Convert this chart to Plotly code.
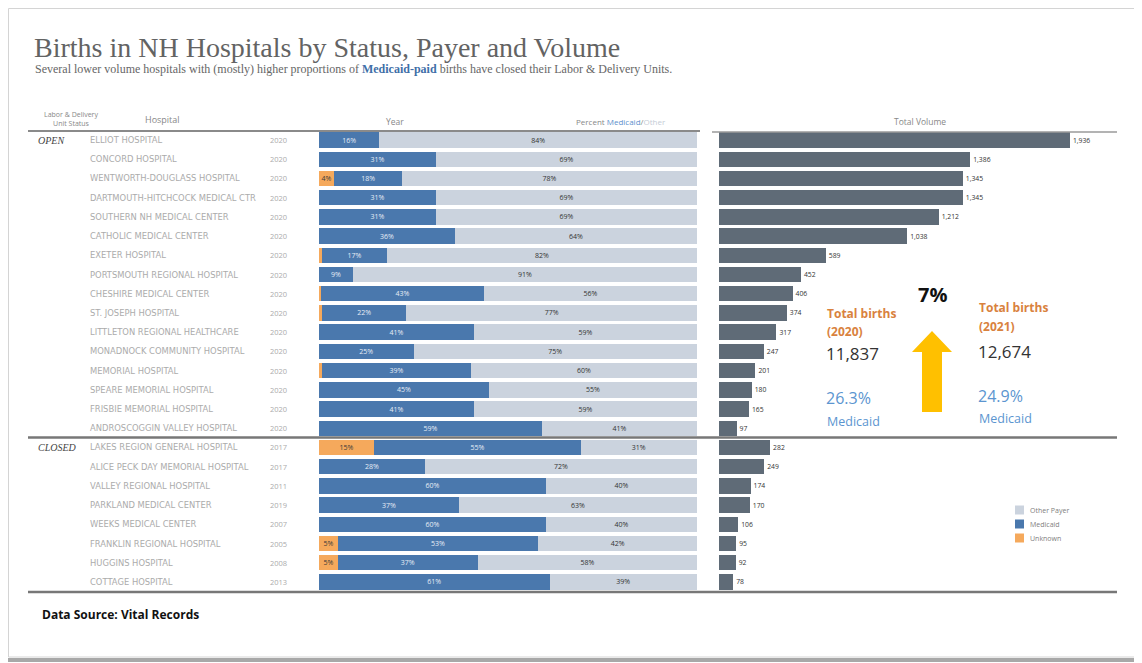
import plotly.graph_objects as go

W, H = 1134, 655   # page body adds an 8px margin on the top/left
OFF = 8

hospitals = [
    "ELLIOT HOSPITAL", "CONCORD HOSPITAL", "WENTWORTH-DOUGLASS HOSPITAL",
    "DARTMOUTH-HITCHCOCK MEDICAL CTR", "SOUTHERN NH MEDICAL CENTER",
    "CATHOLIC MEDICAL CENTER", "EXETER HOSPITAL", "PORTSMOUTH REGIONAL HOSPITAL",
    "CHESHIRE MEDICAL CENTER", "ST. JOSEPH HOSPITAL", "LITTLETON REGIONAL HEALTHCARE",
    "MONADNOCK COMMUNITY HOSPITAL", "MEMORIAL HOSPITAL", "SPEARE MEMORIAL HOSPITAL",
    "FRISBIE MEMORIAL HOSPITAL", "ANDROSCOGGIN VALLEY HOSPITAL",
    "LAKES REGION GENERAL HOSPITAL", "ALICE PECK DAY MEMORIAL HOSPITAL",
    "VALLEY REGIONAL HOSPITAL", "PARKLAND MEDICAL CENTER", "WEEKS MEDICAL CENTER",
    "FRANKLIN REGIONAL HOSPITAL", "HUGGINS HOSPITAL", "COTTAGE HOSPITAL",
]
status = ["OPEN"] * 16 + ["CLOSED"] * 8
years = ["2020"] * 16 + ["2017", "2017", "2011", "2019", "2007", "2005", "2008", "2013"]
unknown_pct = [0, 0, 4.0, 0, 0, 0, 0.8, 0, 0.6, 0.8, 0, 0, 0.8, 0, 0, 0,
               14.6, 0, 0, 0, 0, 5.0, 5.0, 0]
medicaid_pct = [16, 31, 18, 31, 31, 36, 17.2, 9, 43, 22.3, 41, 25, 39.4, 45, 41, 59,
                54.6, 28, 60, 37, 60, 53, 37, 61]
other_pct = [84, 69, 78, 69, 69, 64, 82, 91, 56.4, 76.9, 59, 75, 59.8, 55, 59, 41,
             30.8, 72, 40, 63, 40, 42, 58, 39]
volume = [1936, 1386, 1345, 1345, 1212, 1038, 589, 452, 406, 374, 317, 247, 201, 180,
          165, 97, 282, 249, 174, 170, 106, 95, 92, 78]
legend_names = ["Other Payer", "Medicaid", "Unknown"]

C_UNK = "#f5a95c"
C_MED = "#4a78ad"
C_OTH = "#cbd3de"
C_VOL = "#5f6b77"
C_ORANGE = "#d9823e"
C_BLUE = "#5b95d0"
legend_colors = [C_OTH, C_MED, C_UNK]


def px(x):
    return (x - OFF) / W


def py(y):
    return 1 - (y - OFF) / H


def lab(vals, minv=3):
    return [f"{round(v)}%" if v >= minv else "" for v in vals]


fig = go.Figure()
txtfont = dict(family="Open Sans", size=7)
common = dict(orientation="h", textposition="inside", insidetextanchor="middle",
              textangle=0, constraintext="none", xaxis="x", yaxis="y",
              showlegend=False)
fig.add_trace(go.Bar(
    y=hospitals, x=unknown_pct, name="Unknown",
    marker=dict(color=C_UNK, line=dict(width=0)), text=lab(unknown_pct),
    textfont=dict(color="#3a3a3a", **txtfont), **common,
))
fig.add_trace(go.Bar(
    y=hospitals, x=medicaid_pct, name="Medicaid",
    marker=dict(color=C_MED, line=dict(width=0)), text=lab(medicaid_pct),
    textfont=dict(color="#e6edf6", **txtfont), **common,
))
fig.add_trace(go.Bar(
    y=hospitals, x=other_pct, name="Other Payer",
    marker=dict(color=C_OTH, line=dict(width=0)), text=lab(other_pct),
    textfont=dict(color="#333333", **txtfont), **common,
))
fig.add_trace(go.Bar(
    y=hospitals, x=volume, orientation="h", name="Volume", showlegend=False,
    marker=dict(color=C_VOL, line=dict(width=0)),
    text=[f"{v:,}" for v in volume], textposition="outside", cliponaxis=False,
    textfont=dict(color="#333333", family="Open Sans", size=6.8),
    xaxis="x2", yaxis="y",
))

ytop, ybot = 130.4, 591.6
fig.update_layout(
    width=W, height=H, margin=dict(l=0, r=0, t=0, b=0),
    paper_bgcolor="white", plot_bgcolor="rgba(0,0,0,0)",
    barmode="stack", bargap=0.2, showlegend=False,
    font=dict(family="Open Sans", color="#888"),
    xaxis=dict(domain=[px(319), px(697)], range=[0, 100], showgrid=False,
               zeroline=False, showticklabels=False),
    xaxis2=dict(domain=[px(719), px(1125)], range=[0, 2240], showgrid=False,
                zeroline=False, showticklabels=False, anchor="y"),
    yaxis=dict(domain=[py(ybot), py(ytop)], range=[23.5, -0.5], type="category",
               categoryorder="array", categoryarray=hospitals,
               showticklabels=False, showgrid=False, zeroline=False),
)

ann = []
ann.append(dict(x=px(32), y=py(47), xref="paper", yref="paper", xanchor="left",
                yanchor="middle", showarrow=False,
                text="Births in NH Hospitals by Status, Payer and Volume",
                font=dict(family="Liberation Serif", size=28, color="#636363")))
ann.append(dict(x=px(33), y=py(69), xref="paper", yref="paper", xanchor="left",
                yanchor="middle", showarrow=False,
                text=("Several lower volume hospitals with (mostly) higher proportions of "
                      "<b><span style='color:#3f6fa8'>Medicaid-paid</span></b> births have "
                      "closed their Labor &amp; Delivery Units."),
                font=dict(family="Liberation Serif", size=12, color="#666")))
ann.append(dict(x=px(71), y=py(119), xref="paper", yref="paper", xanchor="center",
                yanchor="middle", showarrow=False,
                text="Labor &amp; Delivery<br>Unit Status",
                font=dict(size=7, color="#888")))
ann.append(dict(x=px(143), y=py(119), xref="paper", yref="paper", xanchor="left",
                yanchor="middle", showarrow=False, text="Hospital",
                font=dict(size=9, color="#888")))
ann.append(dict(x=px(395), y=py(121), xref="paper", yref="paper", xanchor="center",
                yanchor="middle", showarrow=False, text="Year",
                font=dict(size=8.5, color="#888")))
ann.append(dict(x=px(668), y=py(121), xref="paper", yref="paper", xanchor="right",
                yanchor="middle", showarrow=False,
                text=("Percent <span style='color:#5b8fcc'>Medicaid</span>/"
                      "<span style='color:#c5ccd6'>Other</span>"),
                font=dict(size=8, color="#888")))
ann.append(dict(x=px(920), y=py(121), xref="paper", yref="paper", xanchor="center",
                yanchor="middle", showarrow=False, text="Total Volume",
                font=dict(size=8.5, color="#888")))

seen = set()
for h, s, yr in zip(hospitals, status, years):
    if s not in seen:
        seen.add(s)
        ann.append(dict(x=px(36), y=h, xref="paper", yref="y", xanchor="left",
                        yanchor="middle", showarrow=False, text=f"<i>{s}</i>",
                        font=dict(family="Liberation Serif", size=10, color="#444")))
    ann.append(dict(x=px(88), y=h, xref="paper", yref="y", xanchor="left",
                    yanchor="middle", showarrow=False, text=h,
                    font=dict(family="DejaVu Sans", size=8.4, color="#ababab")))
    ann.append(dict(x=px(278), y=h, xref="paper", yref="y", xanchor="center",
                    yanchor="middle", showarrow=False, text=yr,
                    font=dict(size=7.5, color="#ababab")))


def tx(x, y, t, size, color, bold=False, anchor="left"):
    ann.append(dict(x=px(x), y=py(y), xref="paper", yref="paper", xanchor=anchor,
                    yanchor="middle", showarrow=False,
                    text=f"<b>{t}</b>" if bold else t,
                    font=dict(family="Open Sans", size=size, color=color)))


tx(825, 313, "Total births", 12, C_ORANGE, True)
tx(825, 331, "(2020)", 12, C_ORANGE, True)
tx(824, 353, "11,837", 17, "#333")
tx(824, 398, "26.3%", 16, C_BLUE)
tx(825, 421, "Medicaid", 12.5, C_BLUE)
tx(977, 307, "Total births", 12, C_ORANGE, True)
tx(977, 326, "(2021)", 12, C_ORANGE, True)
tx(976, 351, "12,674", 17, "#333")
tx(976, 396, "24.9%", 16, C_BLUE)
tx(977, 418, "Medicaid", 12.5, C_BLUE)
tx(932, 294, "7%", 20, "#111", True, "center")

for i, (nm, col) in enumerate(zip(legend_names, legend_colors)):
    tx(1028, 510 + i * 14, nm, 7, "#808080")

ann.append(dict(x=px(40), y=py(614), xref="paper", yref="paper", xanchor="left",
                yanchor="middle", showarrow=False, text="<b>Data Source: Vital Records</b>",
                font=dict(family="Open Sans", size=12, color="#111")))
fig.update_layout(annotations=ann)

shapes = []
shapes.append(dict(type="rect", xref="paper", yref="paper", x0=px(8.5), x1=px(1136),
                   y0=py(657), y1=py(8.5), line=dict(color="#d4d4d4", width=1),
                   fillcolor="rgba(0,0,0,0)", layer="below"))
shapes.append(dict(type="line", xref="paper", yref="paper", x0=px(8), x1=px(1142),
                   y0=py(660), y1=py(660), line=dict(color="#a8a8a8", width=4)))
shapes.append(dict(type="line", xref="paper", yref="paper", x0=px(1138), x1=px(1138),
                   y0=py(10), y1=py(660), line=dict(color="#c4c4c4", width=2)))
shapes.append(dict(type="line", xref="paper", yref="paper", x0=px(28), x1=px(700),
                   y0=py(131), y1=py(131), line=dict(color="#8a8a8a", width=2)))
shapes.append(dict(type="line", xref="paper", yref="paper", x0=px(712), x1=px(1117),
                   y0=py(132), y1=py(132), line=dict(color="#9a9a9a", width=1.5)))
shapes.append(dict(type="line", xref="paper", yref="paper", x0=px(28), x1=px(1117),
                   y0=py(437.5), y1=py(437.5), line=dict(color="#777", width=2.5)))
shapes.append(dict(type="line", xref="paper", yref="paper", x0=px(28), x1=px(1117),
                   y0=py(592), y1=py(592), line=dict(color="#777", width=2.5)))
for i, col in enumerate(legend_colors):
    yc = 510 + i * 14
    shapes.append(dict(type="rect", xref="paper", yref="paper", x0=px(1015), x1=px(1024),
                       y0=py(yc + 4.5), y1=py(yc - 4.5), fillcolor=col,
                       line=dict(width=0)))
pts = [(922, 412), (942, 412), (942, 352), (952, 352), (932, 331), (912, 352), (922, 352)]
path = "M " + " L ".join(f"{px(a)},{py(b)}" for a, b in pts) + " Z"
shapes.append(dict(type="path", xref="paper", yref="paper", path=path,
                   fillcolor="#ffc000", line=dict(width=0)))
fig.update_layout(shapes=shapes)

fig.write_html("out.html")
